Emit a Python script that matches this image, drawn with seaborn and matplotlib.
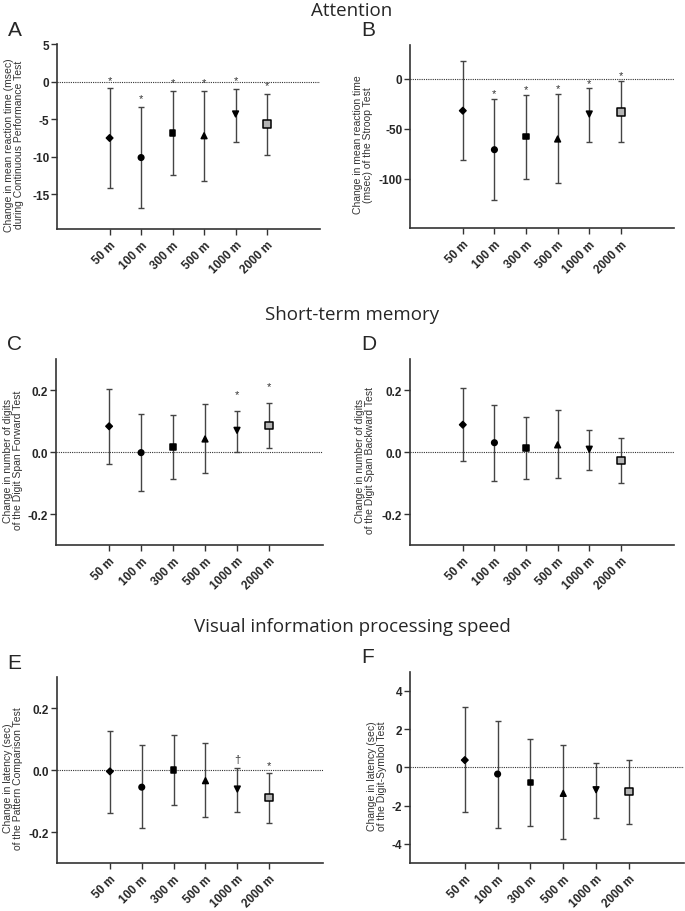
import matplotlib
matplotlib.use('Agg')
import matplotlib.pyplot as plt
import numpy as np
import pandas as pd
import seaborn as sns

# Distances from the nearest green space
distances = ['50 m', '100 m', '300 m', '500 m', '1000 m', '2000 m']

# A: Continuous Performance Test (msec)
cpt_mean = [-7.5, -10.1, -6.8, -7.2, -4.3, -5.6]
cpt_low = [-14.2, -16.8, -12.4, -13.2, -8.0, -9.7]
cpt_high = [-0.9, -3.35, -1.2, -1.2, -0.95, -1.6]
cpt_sig = ['*', '*', '*', '*', '*', '*']

# B: Stroop Test (msec)
stroop_mean = [-31.7, -70.7, -57.3, -60.0, -35.0, -32.7]
stroop_low = [-81.3, -121.0, -99.7, -104.3, -63.3, -63.3]
stroop_high = [17.7, -20.0, -16.0, -15.0, -9.3, -2.0]
stroop_sig = ['', '*', '*', '*', '*', '*']

# C: Digit Span Forward
fwd_mean = [0.083, -0.002, 0.017, 0.042, 0.070, 0.086]
fwd_low = [-0.039, -0.127, -0.087, -0.067, 0.0, 0.012]
fwd_high = [0.203, 0.123, 0.118, 0.154, 0.132, 0.159]
fwd_sig = ['', '', '', '', '*', '*']

# D: Digit Span Backward
bwd_mean = [0.088, 0.030, 0.013, 0.023, 0.009, -0.027]
bwd_low = [-0.030, -0.092, -0.088, -0.083, -0.059, -0.100]
bwd_high = [0.205, 0.152, 0.112, 0.134, 0.071, 0.045]
bwd_sig = ['', '', '', '', '', '']

# E: Pattern Comparison (sec)
pc_mean = [-0.004, -0.055, 0.001, -0.034, -0.061, -0.089]
pc_low = [-0.137, -0.188, -0.111, -0.152, -0.134, -0.171]
pc_high = [0.128, 0.082, 0.113, 0.088, 0.008, -0.009]
pc_sig = ['', '', '', '', '\u2020', '*']

# F: Digit-Symbol (sec)
ds_mean = [0.38, -0.35, -0.80, -1.36, -1.17, -1.27]
ds_low = [-2.35, -3.15, -3.08, -3.77, -2.64, -2.96]
ds_high = [3.13, 2.43, 1.50, 1.15, 0.24, 0.40]
ds_sig = ['', '', '', '', '', '']

sns.set_style('ticks')
plt.rcParams['font.family'] = ['Liberation Sans', 'DejaVu Sans']
plt.rcParams['axes.unicode_minus'] = False

W, H = 685, 912
fig = plt.figure(figsize=(W / 100, H / 100), dpi=100)

markers = {'50 m': 'D', '100 m': 'o', '300 m': 's', '500 m': '^', '1000 m': 'v', '2000 m': 's'}
palette = {d: 'black' for d in distances}
palette['2000 m'] = '#b4b4b4'
msizes = {'50 m': 11, '100 m': 16, '300 m': 16, '500 m': 17, '1000 m': 17, '2000 m': 30}


def add_panel(box, mean, low, high, sig, ylim, yticks, yticklabels, ylabel, label_x, letter, star_off):
    x0, y0, x1, y1 = box
    ax = fig.add_axes([x0 / W, 1 - y1 / H, (x1 - x0) / W, (y1 - y0) / H])
    df = pd.DataFrame({'distance': distances, 'mean': mean, 'low': low, 'high': high})
    yerr = [df['mean'] - df['low'], df['high'] - df['mean']]
    ax.errorbar(df['distance'], df['mean'], yerr=yerr, fmt='none', ecolor='#444444',
                elinewidth=1.0, capsize=1.9, capthick=1.0, zorder=2)
    sns.scatterplot(data=df, x='distance', y='mean', hue='distance', palette=palette,
                    style='distance', markers=markers, size='distance', sizes=msizes,
                    edgecolor='black', linewidth=1.1, legend=False, zorder=3, ax=ax)
    ax.axhline(0, color='#333333', lw=0.8, ls=(0, (1, 1)), zorder=1)
    for d, h, s in zip(distances, high, sig):
        if s:
            ax.annotate(s, xy=(d, h), xytext=(0, star_off), textcoords='offset points',
                        ha='center', va='center', fontsize=8, color='#333333')
    ax.set_xlim(-1.67, 6.68)
    ax.set_ylim(*ylim)
    ax.set_yticks(yticks)
    ax.set_yticklabels(yticklabels, fontsize=8.5, fontweight='bold')
    ax.set_xticks(range(len(distances)))
    ax.set_xticklabels(distances, rotation=45, ha='right', rotation_mode='anchor',
                       fontsize=8.5, fontweight='bold')
    ax.set_xlabel('')
    ax.set_ylabel(ylabel, fontsize=7.5, linespacing=1.0, color='#333333')
    ax.yaxis.set_label_coords(label_x, 0.46)
    sns.despine(ax=ax)
    for sp in ['left', 'bottom']:
        ax.spines[sp].set_color('#333333')
        ax.spines[sp].set_linewidth(1.2)
    ax.tick_params(axis='y', length=4, width=1, color='#333333', pad=1.5)
    ax.tick_params(axis='x', length=4, width=1, color='#333333', pad=3)
    fig.text((x0 - 49) / W, 1 - (y0 - 15) / H, letter, fontsize=15, ha='left', va='center')
    return ax


sub = ['0.2', '0.0', '-0.2']
add_panel((57, 45, 320, 230), cpt_mean, cpt_low, cpt_high, cpt_sig, (-19.6, 5),
          [5, 0, -5, -10, -15], ['5', '0', '-5', '-10', '-15'],
          'Change in mean reaction time (msec)\nduring Continuous Performance Test', -0.125, 'A', 6)
add_panel((410, 45.7, 674, 229.3), stroop_mean, stroop_low, stroop_high, stroop_sig, (-149.3, 34.3),
          [0, -50, -100], ['0', '-50', '-100'],
          'Change in mean reaction time\n(msec) of the Stroop Test', -0.14, 'B', 4)
add_panel((55.7, 360, 322.7, 546), fwd_mean, fwd_low, fwd_high, fwd_sig, (-0.3, 0.3),
          [0.2, 0.0, -0.2], sub,
          'Change in number of digits\nof the Digit Span Forward Test', -0.122, 'C', 12)
add_panel((410, 360, 674, 546), bwd_mean, bwd_low, bwd_high, bwd_sig, (-0.3, 0.3),
          [0.2, 0.0, -0.2], sub,
          'Change in number of digits\nof the Digit Span Backward Test', -0.133, 'D', 6)
add_panel((56.7, 678.3, 322.7, 864), pc_mean, pc_low, pc_high, pc_sig, (-0.3, 0.3),
          [0.2, 0.0, -0.2], sub,
          'Change in latency (sec)\nof the Pattern Comparison Test', -0.127, 'E', 6)
add_panel((410, 672.7, 684, 864), ds_mean, ds_low, ds_high, ds_sig, (-5, 5),
          [4, 2, 0, -2, -4], ['4', '2', '0', '-2', '-4'],
          'Change in latency (sec)\nof the Digit-Symbol Test', -0.084, 'F', 6)

for title, y in [('Attention', 11), ('Short-term memory', 315), ('Visual information processing speed', 627)]:
    fig.text(352 / W, 1 - y / H, title, fontsize=13.5, ha='center', va='center',
             family=['Open Sans', 'DejaVu Sans'])

fig.savefig('out.png', dpi=100)
